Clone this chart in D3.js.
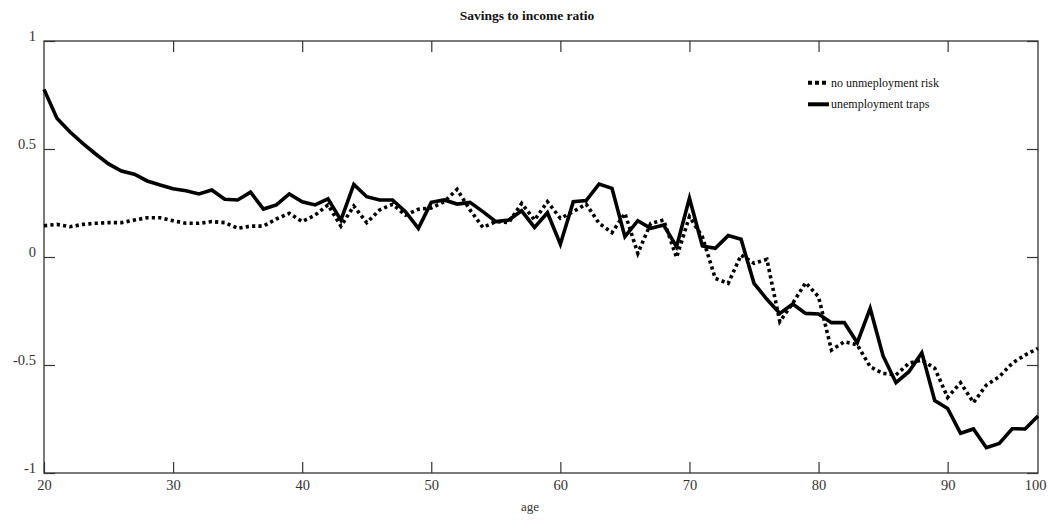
<!DOCTYPE html>
<html>
<head>
<meta charset="utf-8">
<script src="https://cdn.jsdelivr.net/npm/d3@7"></script>
<style>
  html, body { margin: 0; padding: 0; background: #fff; }
  svg { display: block; font-family: "Liberation Serif", "DejaVu Serif", serif; }
</style>
</head>
<body>
<svg id="chart" width="1049" height="520"></svg>
<script>
// ---- data ----
const ages = d3.range(20, 98);
const noRisk = [
  0.145, 0.151, 0.140, 0.151, 0.156, 0.159, 0.159, 0.171, 0.182, 0.182,
  0.168, 0.156, 0.156, 0.164, 0.159, 0.133, 0.143, 0.143, 0.176, 0.202,
  0.164, 0.194, 0.241, 0.143, 0.236, 0.159, 0.218, 0.244, 0.194, 0.221,
  0.227, 0.256, 0.313, 0.218, 0.137, 0.164, 0.159, 0.248, 0.171, 0.256,
  0.179, 0.210, 0.245, 0.156, 0.113, 0.202, 0.017, 0.156, 0.171, -0.002,
  0.187, 0.094, -0.099, -0.122, 0.009, -0.029, -0.011, -0.299, -0.214, -0.119,
  -0.184, -0.431, -0.392, -0.407, -0.508, -0.539, -0.546, -0.492, -0.477, -0.515,
  -0.650, -0.582, -0.674, -0.593, -0.554, -0.492, -0.454, -0.423
];
const traps = [
  0.776, 0.642, 0.580, 0.526, 0.477, 0.431, 0.398, 0.383, 0.352, 0.333,
  0.316, 0.307, 0.292, 0.310, 0.267, 0.264, 0.300, 0.222, 0.241, 0.292,
  0.256, 0.241, 0.269, 0.171, 0.336, 0.279, 0.264, 0.264, 0.210, 0.133,
  0.253, 0.264, 0.245, 0.253, 0.210, 0.164, 0.171, 0.214, 0.137, 0.205,
  0.059, 0.256, 0.261, 0.338, 0.318, 0.094, 0.168, 0.133, 0.148, 0.048,
  0.272, 0.051, 0.040, 0.099, 0.082, -0.122, -0.196, -0.261, -0.218, -0.261,
  -0.264, -0.304, -0.304, -0.397, -0.238, -0.458, -0.582, -0.531, -0.443, -0.665,
  -0.701, -0.816, -0.796, -0.883, -0.863, -0.795, -0.796, -0.736
];
const xTickValues = [20, 30, 40, 50, 60, 70, 80, 90, 97];
const xTickLabels = ["20", "30", "40", "50", "60", "70", "80", "90", "100"];
const yTickValues = [-1, -0.5, 0, 0.5, 1];
const yTickLabels = ["-1", "-0.5", "0", "0.5", "1"];
const seriesNames = ["no unmeployment risk", "unemployment traps"];
const titleText = "Savings to income ratio";
const xLabel = "age";

// ---- layout ----
const L = 44, R = 1038, T = 41, B = 473;
const svg = d3.select("#chart");
const x = d3.scaleLinear().domain([20, 97]).range([L, R]);
const y = d3.scaleLinear().domain([-1, 1]).range([B, T]);
const tickLen = 11;
const frameColor = "#333";
const textColor = "#333";

// frame
svg.append("rect")
  .attr("x", L).attr("y", T).attr("width", R - L).attr("height", B - T)
  .attr("fill", "none").attr("stroke", frameColor).attr("stroke-width", 1.3);

// bottom axis (ticks inward)
const xb = svg.append("g").attr("transform", `translate(0,${B})`)
  .call(d3.axisBottom(x).tickValues(xTickValues)
    .tickFormat((d, i) => xTickLabels[i]).tickSizeInner(-tickLen).tickSizeOuter(0).tickPadding(7));
xb.select(".domain").remove();
xb.selectAll("line").attr("stroke", frameColor).attr("stroke-width", 1.2);
xb.selectAll("text").attr("fill", textColor).style("font-size", "14.5px")
  .style("font-family", "'Liberation Serif', serif");
xb.selectAll(".tick").filter(d => d === 97).select("line").remove();
xb.selectAll(".tick").filter(d => d === 97).select("text").attr("dx", -3);

// top axis ticks
const xt = svg.append("g").attr("transform", `translate(0,${T})`)
  .call(d3.axisTop(x).tickValues(xTickValues.filter(d => d !== 97 && d !== 20)).tickFormat("").tickSizeInner(-tickLen).tickSizeOuter(0));
xt.select(".domain").remove();
xt.selectAll("line").attr("stroke", frameColor).attr("stroke-width", 1.2);

// left axis
const yl = svg.append("g").attr("transform", `translate(${L},0)`)
  .call(d3.axisLeft(y).tickValues(yTickValues)
    .tickFormat((d, i) => yTickLabels[i]).tickSizeInner(-tickLen).tickSizeOuter(0).tickPadding(8));
yl.select(".domain").remove();
yl.selectAll("line").attr("stroke", frameColor).attr("stroke-width", 1.2);
yl.selectAll("text").attr("fill", textColor).style("font-size", "14.5px")
  .style("font-family", "'Liberation Serif', serif").attr("dy", "-0.05em");

// right axis ticks
const yr = svg.append("g").attr("transform", `translate(${R},0)`)
  .call(d3.axisRight(y).tickValues(yTickValues).tickFormat("").tickSizeInner(-tickLen).tickSizeOuter(0));
yr.select(".domain").remove();
yr.selectAll("line").attr("stroke", frameColor).attr("stroke-width", 1.2);

// lines
const line = d3.line().x((d, i) => x(ages[i])).y(d => y(d));
svg.append("path").datum(noRisk)
  .attr("d", line).attr("fill", "none").attr("stroke", "#000")
  .attr("stroke-width", 3.6).attr("stroke-dasharray", "3.2,3.2");
svg.append("path").datum(traps)
  .attr("d", line).attr("fill", "none").attr("stroke", "#000")
  .attr("stroke-width", 3.6).attr("stroke-linejoin", "miter");

// title & axis label
svg.append("text").attr("x", 527).attr("y", 20).attr("text-anchor", "middle")
  .style("font-size", "13.5px").style("font-weight", "bold").attr("fill", "#111").text(titleText);
svg.append("text").attr("x", 530).attr("y", 511).attr("text-anchor", "middle")
  .style("font-size", "13px").attr("fill", textColor).text(xLabel);

// legend
const lg = svg.append("g");
const legY = [82.7, 104.3];
lg.append("line").attr("x1", 808).attr("x2", 828).attr("y1", legY[0]).attr("y2", legY[0])
  .attr("stroke", "#000").attr("stroke-width", 4).attr("stroke-dasharray", "4,3");
lg.append("line").attr("x1", 808).attr("x2", 829).attr("y1", legY[1]).attr("y2", legY[1])
  .attr("stroke", "#000").attr("stroke-width", 4);
seriesNames.forEach((n, i) => {
  lg.append("text").attr("x", 831).attr("y", legY[i] + 4).style("font-size", "12px")
    .attr("fill", "#111").text(n);
});
</script>
</body>
</html>
